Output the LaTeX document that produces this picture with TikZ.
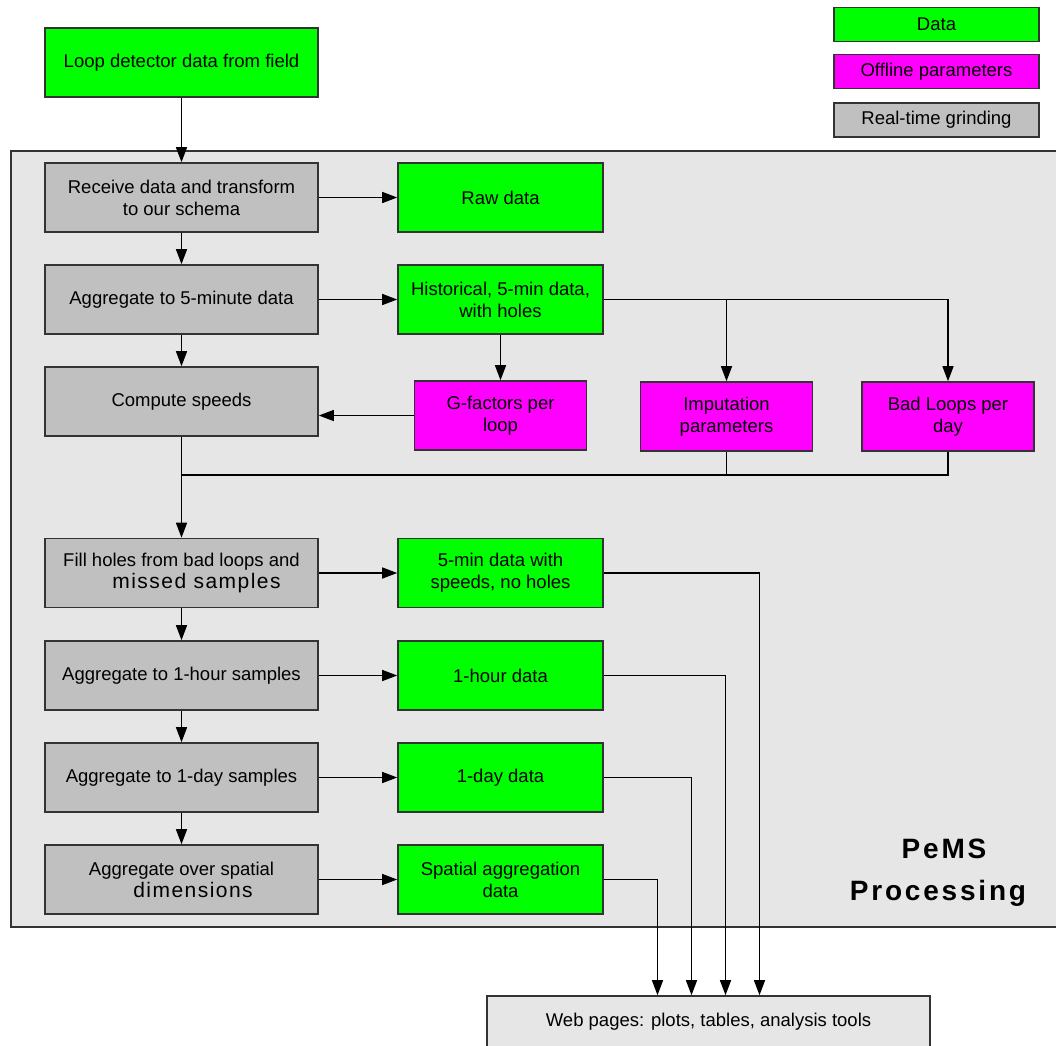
\documentclass[tikz,border=0pt]{standalone}
\usepackage{fontspec}
\setmainfont{Liberation Sans}
\usepackage{tikz}
\usetikzlibrary{arrows.meta,positioning,calc}
\definecolor{datagreen}{HTML}{00FF00}
\definecolor{parammagenta}{HTML}{FF00FF}
\definecolor{grindgray}{HTML}{C0C0C0}
\definecolor{pemsback}{HTML}{E6E6E6}
\newcommand{\pemsfont}{\fontsize{18.5}{22}\selectfont}
\newcommand{\wide}[2]{{\addfontfeature{LetterSpace=#1}#2}}
\tikzstyle{box}       = [draw=black!80,line width=1.6pt,inner sep=0pt,align=center,font=\pemsfont]
\tikzstyle{grinding}  = [box,fill=grindgray,minimum width=273pt,minimum height=69pt]
\tikzstyle{dataset}   = [box,fill=datagreen,minimum width=205pt,minimum height=69pt]
\tikzstyle{offline}   = [box,fill=parammagenta,minimum width=172pt,minimum height=69pt]
\tikzstyle{legendbox} = [box,minimum width=205pt,minimum height=34pt]
\tikzstyle{flow}      = [line width=1.4pt,arrows={-Triangle[length=15pt,width=11pt]}]
\tikzstyle{link}      = [line width=1.4pt]
\begin{document}
\begin{tikzpicture}[x=1pt,y=-1pt]
  \useasboundingbox (0,0) rectangle (1056,1045);
  % PeMS processing area
  \filldraw[fill=pemsback,draw=black!80,line width=1.6pt] (11,151) rectangle (1070,927);
  \node (pems) [font=\fontsize{28}{42}\selectfont\bfseries,align=center] at (938,873)
        {\hspace*{12pt}\wide{10}{PeMS}\\\wide{10}{Processing}};

  % legend
  \node (lgdata)[legendbox,fill=datagreen]    at (936.5,24.5) {Data};
  \node (lgpar) [legendbox,fill=parammagenta] at (936.5,71.5) {Offline parameters};
  \node (lggrd) [legendbox,fill=grindgray]    at (936.5,120)  {Real-time grinding};

  \node (loop)   [dataset,minimum width=273pt] at (181.5,62.5) {Loop detector data from field};

  \node (receive)[grinding] at (181.5,197.5) {Receive data and transform\\to our schema};
  \node (raw)    [dataset]  at (500.5,197.5) {Raw data};
  \node (agg5)   [grinding] at (181.5,299.5) {Aggregate to 5-minute data};
  \node (hist)   [dataset]  at (500.5,299.5) {Historical, 5-min data,\\with holes};
  \node (speed)  [grinding] at (181.5,401.5) {Compute speeds};
  \node (gfac)   [offline]  at (500.5,415.5) {G-factors per\\loop};
  \node (imp)    [offline]  at (726.5,416.5) {Imputation\\parameters};
  \node (bad)    [offline]  at (948,416.5)   {Bad Loops per\\day};

  \node (fill)   [grinding] at (181.5,573)   {Fill holes from bad loops and\\\hspace*{30pt}{\fontsize{21}{24}\selectfont\wide{7}{missed samples}}};
  \node (fivemin)[dataset]  at (500.5,573)   {5-min data with\\speeds, no holes};
  \node (hour)   [grinding] at (181.5,675.5) {Aggregate to 1-hour samples};
  \node (hourdata)[dataset] at (500.5,675.5) {1-hour data};
  \node (day)    [grinding] at (181.5,777.5) {Aggregate to 1-day samples};
  \node (daydata)[dataset]  at (500.5,777.5) {1-day data};
  \node (spatial)[grinding] at (181.5,879.5) {Aggregate over spatial\\\hspace*{23pt}{\fontsize{21}{24}\selectfont\wide{7}{dimensions}}};
  \node (spatialdata)[dataset] at (500.5,879.5) {Spatial aggregation\\data};

  \node (web) [box,fill=pemsback,minimum width=443pt,minimum height=52pt] at (708.5,1022)
        {Web pages: plots, tables, analysis tools};

  \coordinate (join) at (181.5,475);
  \coordinate (in1) at ([xshift=-51pt]web.north);
  \coordinate (in2) at ([xshift=-17pt]web.north);
  \coordinate (in3) at ([xshift=17pt]web.north);
  \coordinate (in4) at ([xshift=51pt]web.north);

  \draw[flow] (loop) -- (receive);
  \draw[flow] (receive) -- (raw);
  \draw[flow] (receive) -- (agg5);
  \draw[flow] (agg5) -- (hist);
  \draw[flow] (agg5) -- (speed);
  \draw[flow] (hist) -- (gfac);
  \draw[flow] (hist.east) -| (imp.north);
  \draw[flow] (hist.east) -| (bad.north);
  \draw[flow] (gfac.west) -- (gfac.west -| speed.east);
  \draw[link] (imp.south) |- (join);
  \draw[link] (bad.south) |- (join);
  \draw[flow] (speed) -- (fill);

  \draw[flow] (fill) -- (fivemin);
  \draw[flow] (fill) -- (hour);
  \draw[flow] (hour) -- (hourdata);
  \draw[flow] (hour) -- (day);
  \draw[flow] (day) -- (daydata);
  \draw[flow] (day) -- (spatial);
  \draw[flow] (spatial) -- (spatialdata);

  \draw[flow] (spatialdata.east) -| (in1);
  \draw[flow] (daydata.east) -| (in2);
  \draw[flow] (hourdata.east) -| (in3);
  \draw[flow] (fivemin.east) -| (in4);
\end{tikzpicture}
\end{document}
